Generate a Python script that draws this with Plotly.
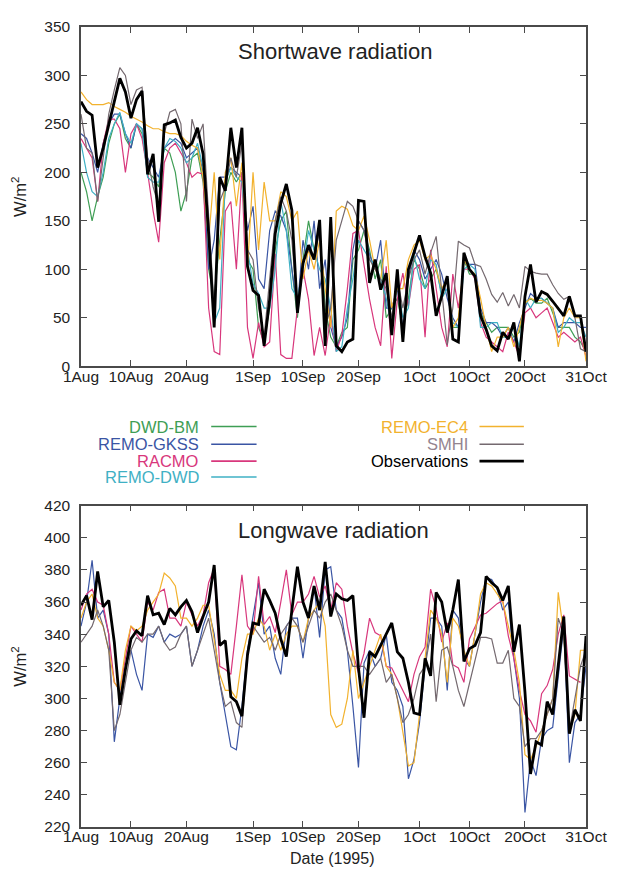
import pandas as pd
import plotly.graph_objects as go

# ---------------- data ----------------
dates = pd.date_range("1995-08-01", "1995-10-31", freq="D")

tick_vals = ["1995-08-01", "1995-08-10", "1995-08-20", "1995-09-01", "1995-09-10",
             "1995-09-20", "1995-10-01", "1995-10-10", "1995-10-20", "1995-10-31"]
tick_text = ["1Aug", "10Aug", "20Aug", "1Sep", "10Sep", "20Sep", "1Oct", "10Oct", "20Oct", "31Oct"]

# Shortwave radiation (W/m2)
sw_dwdbm = [200,180,150,175,195,230,250,260,235,225,
            250,240,200,195,185,225,220,200,160,180,
            215,220,190,100,70,130,180,200,190,200,
            110,100,40,25,60,120,150,160,100,50,
            110,150,120,140,60,30,20,35,40,110,
            120,140,120,90,110,50,60,70,40,70,
            110,100,80,90,100,75,90,40,40,110,
            95,95,55,45,35,40,40,40,30,35,
            65,70,65,65,70,55,40,40,40,30,
            25,15]
sw_gkss = [240,235,220,200,230,250,260,260,240,225,
           250,245,215,205,195,225,230,235,230,215,
           220,225,200,100,130,195,195,205,200,195,
           140,165,90,80,140,160,155,140,100,60,
           130,100,150,80,110,40,20,30,50,120,
           150,140,115,100,130,60,60,80,40,90,
           120,110,90,100,110,95,70,50,40,110,
           105,105,60,45,45,40,30,40,25,45,
           60,75,70,70,65,60,40,45,45,45,
           40,40]
sw_racmo = [235,225,215,170,230,255,255,245,200,240,
            250,235,200,160,128,210,225,230,220,210,
            195,200,198,60,15,12,160,170,100,200,
            40,8,45,20,25,116,12,8,8,60,
            100,69,11,40,11,52,15,32,80,137,
            140,103,69,40,21,103,8,69,96,62,
            100,105,30,120,80,40,20,95,60,100,
            100,90,45,30,25,20,15,35,25,10,
            55,60,50,55,60,45,30,35,30,25,
            30,10]
sw_remodwd = [230,200,180,175,200,235,250,262,240,230,
              250,245,195,190,190,225,235,232,225,210,
              215,230,205,120,45,60,190,205,195,190,
              120,85,75,60,60,100,170,140,80,70,
              100,140,120,100,90,60,15,20,60,90,
              130,120,110,105,90,70,40,85,50,60,
              115,90,80,110,105,70,80,45,40,100,
              105,100,40,40,45,45,30,30,40,20,
              70,60,70,70,65,60,35,40,50,45,
              45,30]
sw_ec4 = [283,275,270,270,270,272,268,265,262,258,
          255,252,248,245,245,242,240,240,238,232,
          228,225,195,130,200,110,200,215,165,210,
          100,200,120,190,150,150,180,175,150,160,
          90,120,100,130,80,40,160,165,162,145,
          140,155,130,100,90,130,60,80,80,110,
          125,130,110,115,100,80,90,40,50,110,
          100,95,70,40,15,30,30,40,20,40,
          65,70,68,68,65,60,20,50,60,50,
          50,5]
sw_smhi = [260,225,220,170,215,260,285,308,300,270,
           285,288,215,185,165,240,262,265,250,170,
           255,235,250,150,60,170,185,215,195,230,
           120,110,60,30,90,150,175,160,130,60,
           110,120,110,140,40,60,130,150,170,165,
           150,140,110,100,90,80,50,90,60,90,
           110,120,95,117,134,80,22,60,129,125,
           122,105,103,90,74,66,76,62,74,60,
           103,98,96,95,95,84,75,69,72,50,
           18,15]
sw_obs = [273,263,259,205,225,249,270,297,283,256,
          275,284,198,219,149,249,251,254,236,225,
          230,246,219,137,40,195,181,246,205,246,
          103,78,73,21,69,137,168,188,161,55,
          106,125,110,151,21,154,21,15,25,28,
          171,170,86,110,79,96,32,100,25,100,
          117,135,113,96,52,72,93,28,25,117,
          100,93,52,38,21,16,35,28,45,5,
          72,105,66,77,74,67,59,52,72,52,
          52,15]

# Longwave radiation (W/m2)
lw_gkss = [345,360,386,350,355,340,273,300,320,330,
           315,305,340,338,345,335,340,338,340,345,
           320,330,345,355,340,310,290,270,268,295,
           330,350,372,340,345,325,315,345,350,350,
           325,350,370,338,380,382,355,350,330,295,
           257,322,330,320,325,340,310,305,295,250,
           262,285,320,350,350,345,305,355,350,325,
           320,340,360,375,374,368,355,360,325,300,
           229,262,252,275,280,282,315,345,260,285,
           290,320]
lw_racmo = [355,365,368,360,358,340,310,305,325,345,
            340,335,360,355,366,368,350,350,345,360,
            352,345,352,372,381,320,318,315,345,377,
            345,340,376,346,351,341,360,380,352,360,
            360,365,376,363,370,355,372,368,345,328,
            316,328,350,341,339,320,319,312,305,298,
            315,326,332,368,356,335,347,321,319,310,
            337,345,352,353,356,359,361,339,325,305,
            290,286,279,303,308,318,340,352,314,312,
            310,None]
lw_ec4 = [350,360,365,350,345,330,310,305,330,345,
          342,345,355,360,365,378,375,370,350,350,
          345,350,358,358,335,315,305,305,300,325,
          340,340,350,345,330,340,330,340,345,345,
          335,350,355,360,345,290,282,284,300,330,
          300,310,320,330,340,320,315,300,280,258,
          260,290,325,355,350,340,310,350,345,330,
          320,340,365,372,370,365,360,345,330,310,
          265,262,270,280,290,300,366,340,280,290,
          330,330]
lw_smhi = [335,340,345,355,345,330,280,290,310,330,
           338,335,340,340,345,335,330,332,340,345,
           320,330,340,350,330,310,295,298,285,282,
           330,345,340,335,338,330,340,345,350,345,
           335,345,355,350,360,365,355,345,330,320,
           320,320,315,320,325,310,315,300,285,290,
           300,315,320,340,298,330,332,320,305,295,
           310,325,338,338,337,322,322,330,300,295,
           270,275,275,280,290,300,350,340,280,300,
           320,330]
lw_obs = [358,364,349,379,357,361,335,296,318,337,
          342,339,364,352,353,346,356,352,357,361,
          354,341,351,360,383,333,336,301,298,289,
          327,347,346,368,361,353,337,326,355,382,
          360,350,370,355,385,351,365,362,361,364,
          319,288,329,326,333,340,347,329,325,310,
          291,290,325,314,366,360,341,355,374,323,
          331,333,341,376,372,369,361,370,329,346,
          304,253,273,271,298,290,319,351,278,293,
          286,339]

colors = {
    "DWD-BM": "#3f9e55",
    "REMO-GKSS": "#3a55a4",
    "RACMO": "#d8377c",
    "REMO-DWD": "#3fb0c4",
    "REMO-EC4": "#f2b22e",
    "SMHI": "#74696f",
    "Observations": "#000000",
}
legend_text_colors = dict(colors)
legend_text_colors["SMHI"] = "#94848f"

sw_series = [("DWD-BM", sw_dwdbm), ("REMO-GKSS", sw_gkss), ("RACMO", sw_racmo),
             ("REMO-DWD", sw_remodwd), ("REMO-EC4", sw_ec4), ("SMHI", sw_smhi),
             ("Observations", sw_obs)]
lw_series = [("REMO-GKSS", lw_gkss), ("RACMO", lw_racmo), ("REMO-EC4", lw_ec4),
             ("SMHI", lw_smhi), ("Observations", lw_obs)]

# ---------------- figure ----------------
fig = go.Figure()
for name, vals in sw_series:
    fig.add_trace(go.Scatter(x=dates, y=vals, mode="lines", name=name,
                             line=dict(color=colors[name], width=2.8 if name == "Observations" else 1.2),
                             xaxis="x", yaxis="y", showlegend=False))
for name, vals in lw_series:
    fig.add_trace(go.Scatter(x=dates, y=vals, mode="lines", name=name,
                             line=dict(color=colors[name], width=2.8 if name == "Observations" else 1.2),
                             xaxis="x2", yaxis="y2", showlegend=False))

FONT = "Liberation Sans, Arial, Helvetica, sans-serif"
OFF = 8                      # default page body margin
W, H = 617 - OFF, 881 - OFF
ML, MR, MT, MB = 81 - OFF, 24, 18 - OFF, 54
PW, PH = W - ML - MR, H - MT - MB


def px_x(px):
    """page pixel x -> paper fraction"""
    return (px - OFF - ML) / PW


def px_y(py):
    """page pixel y -> paper fraction"""
    return (H - MB - (py - OFF)) / PH


axis_common = dict(showline=True, linecolor="#4a4a4a", linewidth=1.5, mirror="ticks",
                   ticks="inside", ticklen=6, tickwidth=1.4, tickcolor="#4a4a4a",
                   showgrid=False, zeroline=False,
                   tickfont=dict(family=FONT, size=15.5, color="#222"))

xcommon = dict(axis_common, type="date", range=["1995-08-01", "1995-10-31"],
               tickmode="array", tickvals=tick_vals, ticktext=tick_text,
               ticklabelstandoff=-5)

fig.update_layout(
    width=W, height=H,
    margin=dict(l=ML, r=MR, t=MT, b=MB),
    plot_bgcolor="white", paper_bgcolor="white",
    showlegend=False,
    xaxis=dict(xcommon, domain=[0, 1], anchor="y"),
    yaxis=dict(axis_common, domain=[px_y(361), 1], anchor="x", range=[0, 350], dtick=50,
               ticklabelstandoff=6),
    xaxis2=dict(xcommon, domain=[0, 1], anchor="y2"),
    yaxis2=dict(axis_common, domain=[0, px_y(502)], anchor="x2", range=[220, 420], dtick=20,
                ticklabelstandoff=6),
)

ann = []
ann.append(dict(text="Shortwave radiation", x=px_x(339), y=px_y(43), xref="paper", yref="paper",
                showarrow=False, xanchor="center", yanchor="middle",
                font=dict(family=FONT, size=22, color="#222")))
ann.append(dict(text="Longwave radiation", x=px_x(337), y=px_y(527), xref="paper", yref="paper",
                showarrow=False, xanchor="center", yanchor="middle",
                font=dict(family=FONT, size=22, color="#222")))
for yc in (190, 665):
    ann.append(dict(text="W/m<sup>2</sup>", x=px_x(18), y=px_y(yc), xref="paper", yref="paper",
                    showarrow=False, xanchor="center", yanchor="middle", textangle=-90,
                    font=dict(family=FONT, size=16.5, color="#222")))
ann.append(dict(text="Date (1995)", x=px_x(336), y=px_y(859), xref="paper", yref="paper",
                showarrow=False, xanchor="center", yanchor="middle",
                font=dict(family=FONT, size=16, color="#222")))

legend_left = ["DWD-BM", "REMO-GKSS", "RACMO", "REMO-DWD"]
legend_right = ["REMO-EC4", "SMHI", "Observations"]
rows_y = [422, 440, 457, 473]
shapes = []
for names, txt_x, l0, l1 in ((legend_left, 203, 213, 259), (legend_right, 475, 485, 530)):
    for name, yy in zip(names, rows_y):
        ann.append(dict(text=name, x=px_x(txt_x), y=px_y(yy), xref="paper", yref="paper",
                        showarrow=False, xanchor="right", yanchor="middle",
                        font=dict(family=FONT, size=16.5, color=legend_text_colors[name])))
        shapes.append(dict(type="line", xref="paper", yref="paper",
                           x0=px_x(l0), x1=px_x(l1), y0=px_y(yy), y1=px_y(yy),
                           line=dict(color=colors[name],
                                     width=2.8 if name == "Observations" else 1.6)))

fig.update_layout(annotations=ann, shapes=shapes)
fig.write_html("out.html")
